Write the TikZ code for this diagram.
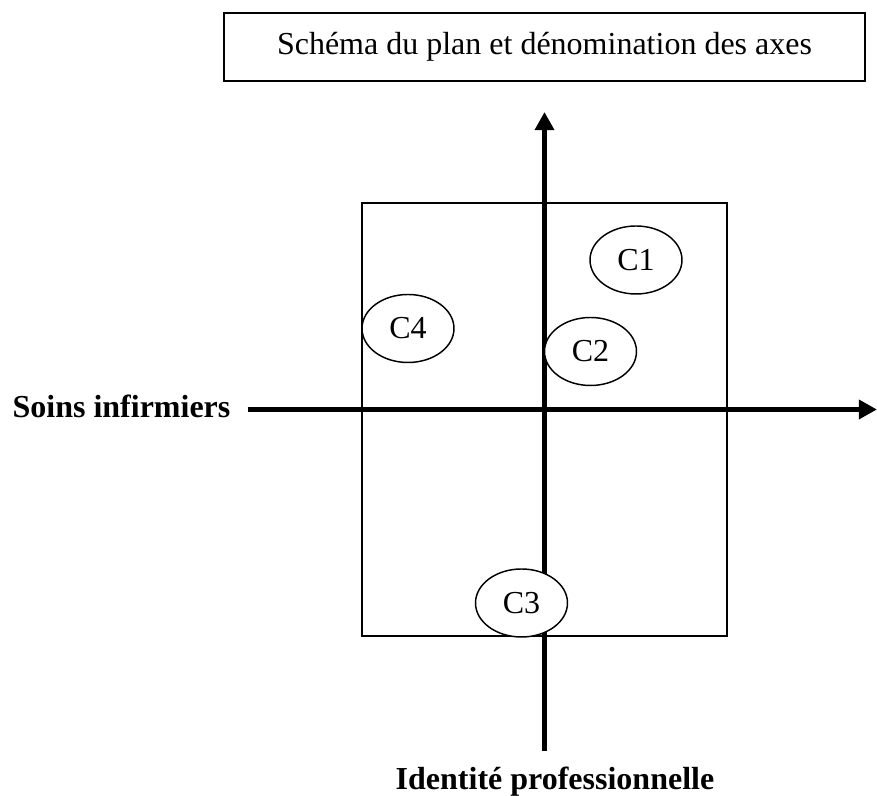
\documentclass[tikz,border=0pt]{standalone}
\usepackage{fontspec}
\setmainfont{Liberation Serif}
\usetikzlibrary{arrows.meta,shapes.geometric}
\begin{document}
\begin{tikzpicture}[x=0.375pt,y=-0.375pt,
  axisline/.style={line width=1.9pt,-{Triangle[length=6.8pt,width=7pt]}},
  cluster/.style={ellipse,draw,line width=0.55pt,fill=white,minimum width=34.5pt,minimum height=25.5pt,inner sep=0pt,font=\fontsize{12pt}{14pt}\selectfont},
  titlebox/.style={draw,line width=0.75pt,minimum width=240.4pt,minimum height=25.5pt,inner sep=0pt,font=\fontsize{12pt}{14pt}\selectfont},
  axislabel/.style={inner sep=0pt,anchor=base,font=\fontsize{12pt}{14pt}\selectfont\bfseries}]
\useasboundingbox (0,0) rectangle (877,796);
\node[titlebox] (title) at (544.5,47) {Schéma du plan et dénomination des axes};
\draw[line width=0.55pt] (362,203) rectangle (727,636);
\coordinate (vb) at (544.5,751);
\coordinate (vt) at (544.5,112);
\coordinate (hl) at (247.7,409.5);
\coordinate (hr) at (877,409.5);
\draw[axisline] (vb) -- (vt);
\draw[axisline] (hl) -- (hr);
\node[axislabel] (sx) at (121.5,418) {Soins infirmiers};
\node[axislabel] (sy) at (555,790) {Identité professionnelle};
\node[cluster] (c1) at (636,260) {C1};
\node[cluster] (c4) at (408,328.5) {C4};
\node[cluster] (c2) at (590.5,351.5) {C2};
\node[cluster] (c3) at (521.5,603) {C3};
\end{tikzpicture}
\end{document}
